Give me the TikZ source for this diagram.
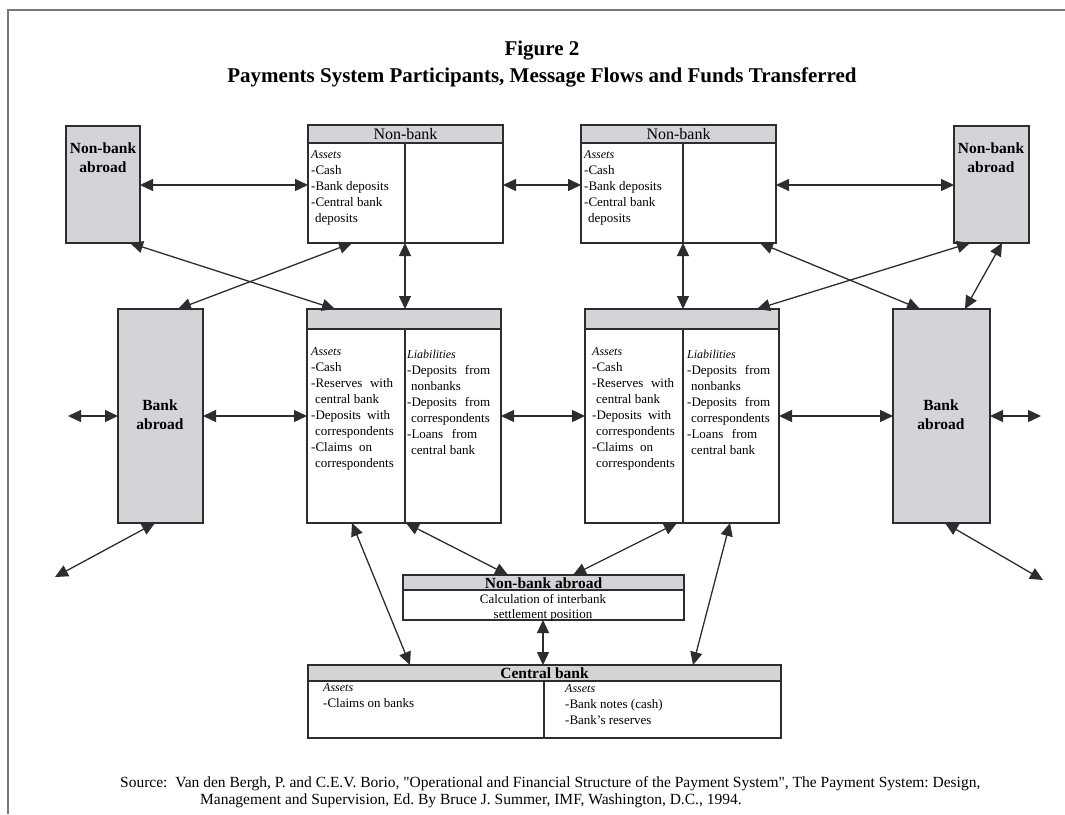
\documentclass[tikz,border=0pt]{standalone}
\usepackage{fontspec}
\setmainfont{Liberation Serif}
\newfontfamily\srcfont{Liberation Serif}[Ligatures=TeXOff]
\usetikzlibrary{arrows.meta,calc}

\definecolor{boxgray}{RGB}{211,212,215}
\definecolor{linec}{RGB}{45,45,45}
\definecolor{framec}{RGB}{120,120,120}

% a line whose inter-word spaces are stretched to a given width (pt)
\newcommand{\spreadto}[2]{\makebox[#1pt][s]{#2}}
% italic column heading
\newcommand{\colhead}[1]{{\itshape\fontsize{12}{16}\selectfont #1}}

\begin{document}
\frenchspacing
\begin{tikzpicture}[x=1pt,y=-1pt,
  framing/.style={draw=framec, line width=1.8pt},
  panel/.style={draw=linec, line width=1.3pt, inner sep=0pt, outer sep=0pt, anchor=north west},
  shaded/.style={panel, fill=boxgray},
  headbar/.style={draw=linec, line width=1.3pt, fill=boxgray},
  divider/.style={draw=linec, line width=1.3pt},
  flow/.style={draw=linec, line width=1.3pt,
    {Triangle[length=13pt,width=12pt]}-{Triangle[length=13pt,width=12pt]}},
  body/.style={anchor=north west, inner sep=0pt, align=left, font=\fontsize{13}{16}\selectfont},
  headtext/.style={inner sep=0pt, font=\fontsize{16}{18}\selectfont},
  boldhead/.style={inner sep=0pt, font=\fontsize{15.5}{18}\selectfont\bfseries},
  outsider/.style={inner sep=0pt, align=center, font=\fontsize{15.5}{19}\selectfont\bfseries}
]
\useasboundingbox (0,0) rectangle (1065,814);

% outer frame (left and top edges)
\draw[framing] (8,814) -- (8,10) -- (1065,10);

% title
\node[align=center, inner sep=0pt, font=\fontsize{21}{27}\selectfont\bfseries] (title) at (542,64)
  {Figure 2\\Payments System Participants, Message Flows and Funds Transferred};

% ---------- non-banks abroad (top corners) ----------
\node[shaded, minimum width=74pt, minimum height=117pt] (nbaL) at (66,126) {};
\node[outsider] (nbaLt) at (103,158) {Non-bank\\abroad};
\node[shaded, minimum width=75pt, minimum height=117pt] (nbaR) at (954,126) {};
\node[outsider] (nbaRt) at (991,158) {Non-bank\\abroad};

% ---------- domestic non-banks ----------
\node[panel, minimum width=195pt, minimum height=118pt] (nb1) at (308,125) {};
\draw[headbar] (nb1.north west) rectangle ($(nb1.north east)+(0,18)$);
\draw[divider] ($(nb1.north west)+(97,18)$) -- ($(nb1.south west)+(97,0)$);
\node[headtext] (nb1h) at ($(nb1.north)+(0,9)$) {Non-bank};
\node[body] (nb1a) at (311,150)
  {\colhead{Assets}\\-Cash\\-Bank deposits\\-Central bank\\\hspace*{4pt}deposits};

\node[panel, minimum width=195pt, minimum height=118pt] (nb2) at (581,125) {};
\draw[headbar] (nb2.north west) rectangle ($(nb2.north east)+(0,18)$);
\draw[divider] ($(nb2.north west)+(102,18)$) -- ($(nb2.south west)+(102,0)$);
\node[headtext] (nb2h) at ($(nb2.north)+(0,9)$) {Non-bank};
\node[body] (nb2a) at (584,150)
  {\colhead{Assets}\\-Cash\\-Bank deposits\\-Central bank\\\hspace*{4pt}deposits};

% ---------- banks abroad ----------
\node[shaded, minimum width=85pt, minimum height=214pt] (baL) at (118,309) {};
\node[outsider] (baLt) at (160,415) {Bank\\abroad};
\node[shaded, minimum width=97pt, minimum height=214pt] (baR) at (893,309) {};
\node[outsider] (baRt) at (941,415) {Bank\\abroad};

% ---------- domestic banks ----------
\node[panel, minimum width=194pt, minimum height=214pt] (b1) at (307,309) {};
\draw[headbar] (b1.north west) rectangle ($(b1.north east)+(0,20)$);
\draw[divider] ($(b1.north west)+(98,20)$) -- ($(b1.south west)+(98,0)$);
\node[body] (b1a) at (311,347)
  {\colhead{Assets}\\-Cash\\\spreadto{82}{-Reserves with}\\\hspace*{4pt}central bank\\
   \spreadto{79}{-Deposits with}\\\hspace*{4pt}correspondents\\\spreadto{61}{-Claims on}\\\hspace*{4pt}correspondents};
\node[body] (b1l) at (407,350)
  {\colhead{Liabilities}\\\spreadto{83}{-Deposits from}\\\hspace*{4pt}nonbanks\\
   \spreadto{83}{-Deposits from}\\\hspace*{4pt}correspondents\\\spreadto{70}{-Loans from}\\\hspace*{4pt}central bank};

\node[panel, minimum width=194pt, minimum height=214pt] (b2) at (585,309) {};
\draw[headbar] (b2.north west) rectangle ($(b2.north east)+(0,20)$);
\draw[divider] ($(b2.north west)+(98,20)$) -- ($(b2.south west)+(98,0)$);
\node[body] (b2a) at (592,347)
  {\colhead{Assets}\\-Cash\\\spreadto{82}{-Reserves with}\\\hspace*{4pt}central bank\\
   \spreadto{79}{-Deposits with}\\\hspace*{4pt}correspondents\\\spreadto{61}{-Claims on}\\\hspace*{4pt}correspondents};
\node[body] (b2l) at (687,350)
  {\colhead{Liabilities}\\\spreadto{83}{-Deposits from}\\\hspace*{4pt}nonbanks\\
   \spreadto{83}{-Deposits from}\\\hspace*{4pt}correspondents\\\spreadto{70}{-Loans from}\\\hspace*{4pt}central bank};

% ---------- settlement calculation ----------
\node[panel, minimum width=281pt, minimum height=45pt] (clr) at (403,575) {};
\draw[headbar] (clr.north west) rectangle ($(clr.north east)+(0,15)$);
\node[boldhead] (clrh) at ($(clr.north)+(0,8)$) {Non-bank abroad};
\node[inner sep=0pt, align=center, font=\fontsize{13}{15}\selectfont] (clrt) at (543,608)
  {Calculation of interbank\\settlement position};

% ---------- central bank ----------
\node[panel, minimum width=473pt, minimum height=73pt] (cb) at (308,665) {};
\draw[headbar] (cb.north west) rectangle ($(cb.north east)+(0,16)$);
\draw[divider] ($(cb.north west)+(236,16)$) -- ($(cb.south west)+(236,0)$);
\node[boldhead] (cbh) at ($(cb.north)+(0,8)$) {Central bank};
\node[body] (cba) at (323,683)
  {\colhead{Assets}\\-Claims on banks};
\node[body] (cbl) at (565,684)
  {\colhead{Assets}\\-Bank notes (cash)\\-Bank's reserves};

% ---------- free ends of the outward links ----------
\coordinate (outW)  at (68,416);
\coordinate (outE)  at (1041,416);
\coordinate (outSW) at (55,577);
\coordinate (outSE) at (1043,580);

% ---------- message and funds flows ----------
\draw[flow] ($(nbaL.north east)+(0,59)$) -- ($(nb1.north west)+(0,60)$);
\draw[flow] ($(nb1.north east)+(0,60)$) -- ($(nb2.north west)+(0,60)$);
\draw[flow] ($(nb2.north east)+(0,60)$) -- ($(nbaR.north west)+(0,59)$);

\draw[flow] ($(nb1.south west)+(97,0)$) -- ($(b1.north west)+(98,0)$);
\draw[flow] ($(nb2.south west)+(102,0)$) -- ($(b2.north west)+(98,0)$);

\draw[flow] ($(nbaL.south west)+(64,0)$) -- ($(b1.north west)+(28,0)$);
\draw[flow] ($(nb1.south west)+(44,0)$) -- ($(baL.north west)+(60,0)$);
\draw[flow] ($(nb2.south west)+(179,0)$) -- ($(baR.north west)+(27,0)$);
\draw[flow] ($(b2.north west)+(172,0)$) -- ($(nbaR.south west)+(16,0)$);
\draw[flow] ($(baR.north west)+(72,0)$) -- ($(nbaR.south west)+(48,0)$);

\draw[flow] (outW) -- (outW -| baL.west);
\draw[flow] (baL.east) -- (b1.west |- baL.east);
\draw[flow] ($(b1.north east)+(0,107)$) -- ($(b2.north west)+(0,107)$);
\draw[flow] (b2.east) -- (b2.east -| baR.west);
\draw[flow] (baR.east) -- (outE);

\draw[flow] ($(baL.south west)+(37,0)$) -- (outSW);
\draw[flow] ($(baR.south west)+(52,0)$) -- (outSE);

\draw[flow] ($(b1.south west)+(45,0)$) -- ($(cb.north west)+(102,0)$);
\draw[flow] ($(b1.south west)+(99,0)$) -- ($(clr.north west)+(105,0)$);
\draw[flow] ($(b2.south west)+(92,0)$) -- ($(clr.north west)+(170,0)$);
\draw[flow] ($(b2.south west)+(145,0)$) -- ($(cb.north west)+(385,0)$);
\draw[flow] ($(clr.south west)+(140,0)$) -- ($(cb.north west)+(235,0)$);

% ---------- source note ----------
\node[anchor=north west, inner sep=0pt, align=left, font=\srcfont\fontsize{15.5}{17}\selectfont] (src) at (120,776)
  {Source:\ \ Van den Bergh, P. and C.E.V. Borio, "Operational and Financial Structure of the Payment System", The Payment System: Design,\\
   \hspace*{80pt}Management and Supervision, Ed. By Bruce J. Summer, IMF, Washington, D.C., 1994.};
\end{tikzpicture}
\end{document}
